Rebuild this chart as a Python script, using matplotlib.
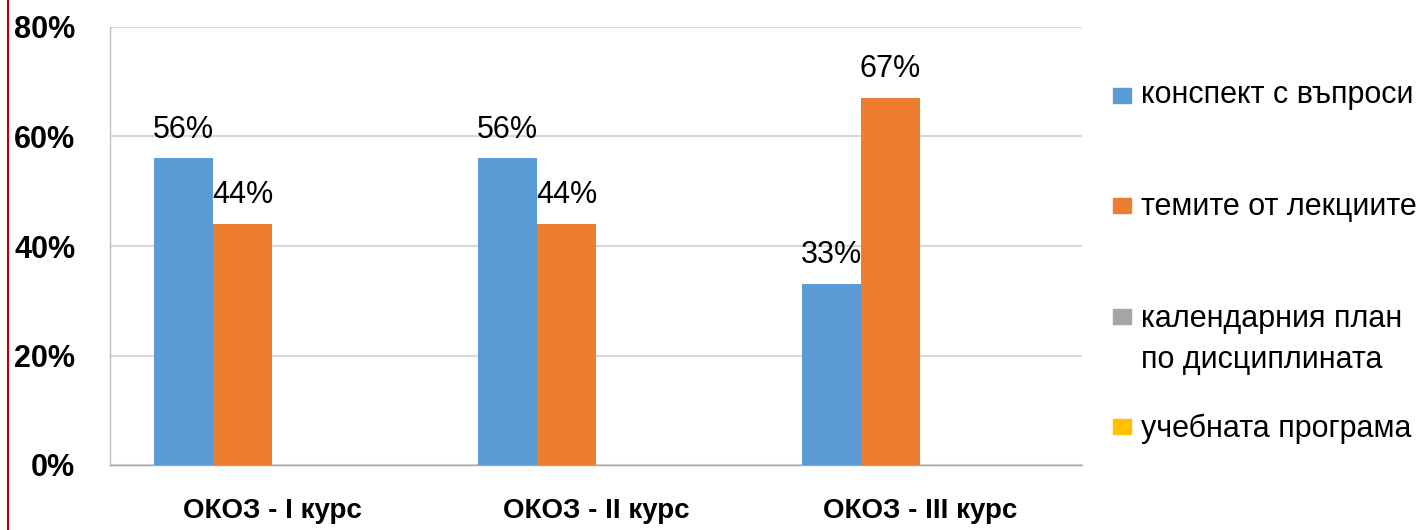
import matplotlib
matplotlib.use("Agg")
import matplotlib.pyplot as plt
import numpy as np
from matplotlib.patches import Rectangle
from matplotlib.lines import Line2D

categories = ["ОКОЗ - I курс", "ОКОЗ - II курс", "ОКОЗ - III курс"]
series_names = ["конспект с въпроси", "темите от лекциите",
                "календарния план\nпо дисциплината", "учебната програма"]
konspekt = [56, 56, 33]
temite = [44, 44, 67]
kalendaren = [np.nan, np.nan, np.nan]
programa = [np.nan, np.nan, np.nan]
yticks = [0, 20, 40, 60, 80]
ytick_labels = ["0%", "20%", "40%", "60%", "80%"]

series = [konspekt, temite, kalendaren, programa]
colors = ["#5B9BD5", "#ED7D31", "#A5A5A5", "#FFC000"]

FONT = ["Liberation Sans Narrow", "Liberation Sans", "DejaVu Sans"]
plt.rcParams['font.family'] = FONT

fig = plt.figure(figsize=(14.25, 5.30), dpi=100)
ax = fig.add_axes([110/1425, 1-465/530, (1082-110)/1425, (465-27)/530])

x = np.arange(len(categories))
w = 0.1815
offsets = [-1.5, -0.5, 0.5, 1.5]
for vals, c, off in zip(series, colors, offsets):
    v = np.array(vals, dtype=float)
    ax.bar(x + off * w, np.nan_to_num(v), width=w, color=c, zorder=3)
    for xi, vi in zip(x, v):
        if not np.isnan(vi):
            ax.annotate(f"{vi:.0f}%", xy=(xi + off * w, vi), xytext=(0, 15),
                        textcoords="offset points", ha="center", va="baseline",
                        fontsize=22, color="#000000", zorder=4)

ax.set_xlim(-0.5, len(categories) - 0.5)
ax.set_ylim(0, 80)
ax.set_yticks(yticks)
ax.set_yticklabels(ytick_labels, fontsize=22, fontweight="bold")
ax.set_xticks(x)
ax.set_xticklabels(categories, fontsize=20, fontweight="bold")
ax.tick_params(axis="y", length=0, pad=25)
ax.tick_params(axis="x", length=0, pad=24)
ax.yaxis.grid(True, color="#D9D9D9", linewidth=1.5, zorder=0)
ax.set_axisbelow(True)
for s in ["top", "right"]:
    ax.spines[s].set_visible(False)
ax.spines["left"].set_color("#BFBFBF")
ax.spines["bottom"].set_color("#A6A6A6")
ax.spines["left"].set_linewidth(1.0)
ax.spines["bottom"].set_linewidth(1.0)

# legend (manual)
sq_centers = [95.5, 205.5, 316, 426]
baselines = [103, 215, 327, 437]
line_step = 41
for name, c, yc, yb in zip(series_names, colors, sq_centers, baselines):
    fig.patches.append(Rectangle((1113/1425, 1-(yc+7.5)/530), 18/1425, 15/530,
                                 transform=fig.transFigure, color=c))
    for i, line in enumerate(name.split("\n")):
        fig.text(1141/1425, 1-(yb + i*line_step)/530, line, fontsize=22,
                 va="baseline", ha="left", color="#000000")

# red border line at left
fig.add_artist(Line2D([8/1425, 8/1425], [0, 1], transform=fig.transFigure,
                      color="#C00000", linewidth=1.5))

fig.savefig("out.png", dpi=100)
